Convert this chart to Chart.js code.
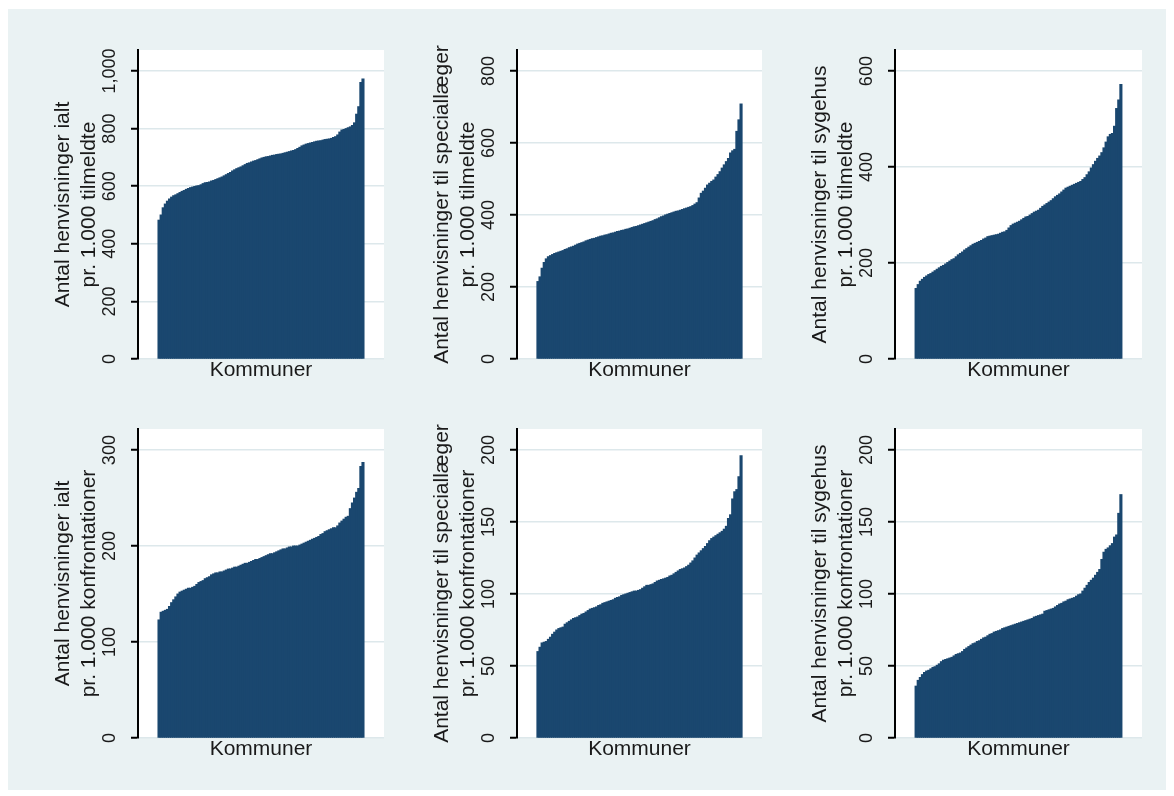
<!DOCTYPE html>
<html lang="da">
<head>
<meta charset="UTF-8">
<title>Henvisninger pr. kommune</title>
<script src="https://cdn.jsdelivr.net/npm/chart.js"></script>
<style>
    body { margin: 0; background: #fff; }
    #frame { position: absolute; left: 8px; top: 9px; width: 1158px; height: 781px; background: #eaf2f3; }
    canvas { position: absolute; }
</style>
</head>
<body>
<div id="frame"></div>
<canvas id="c1" width="334" height="380" style="left:50px;top:10px"></canvas>
<canvas id="c2" width="333" height="380" style="left:429px;top:10px"></canvas>
<canvas id="c3" width="335" height="380" style="left:807px;top:10px"></canvas>
<canvas id="c4" width="334" height="380" style="left:50px;top:389px"></canvas>
<canvas id="c5" width="333" height="380" style="left:429px;top:389px"></canvas>
<canvas id="c6" width="335" height="380" style="left:807px;top:389px"></canvas>
<script>
    // sorted values per kommune (98 kommuner)
    const ialtTilmeldte = [482,500,525,538,548,556,562,567,570,574,578,582,585,589,592,595,597,599,601,602,
        605,609,612,613,615,618,620,623,626,629,632,636,640,644,648,653,657,661,664,667,
        671,675,679,681,684,687,689,692,695,698,700,702,703,705,707,708,710,711,712,714,
        716,718,720,722,724,727,731,735,740,743,746,748,750,752,754,756,757,758,760,762,
        763,764,766,769,772,778,788,795,797,800,803,806,811,820,850,876,960,972];
    const specTilmeldte = [215,228,252,268,278,284,287,290,293,295,297,299,301,304,306,309,311,313,316,319,
        321,323,325,328,330,332,334,335,337,339,341,342,344,345,347,349,350,352,354,355,
        357,358,360,361,363,365,367,368,370,372,374,376,378,380,382,384,387,389,392,395,
        397,400,402,404,406,408,410,411,413,415,417,419,421,423,426,430,434,447,460,466,
        474,483,488,493,497,505,512,520,530,539,548,557,572,578,582,632,664,708];
    const sygehusTilmeldte = [147,155,162,166,170,173,176,178,181,184,187,190,193,195,198,201,204,207,209,213,
        217,220,223,227,230,233,236,239,241,243,245,247,250,252,255,256,257,258,259,260,
        262,264,265,268,273,278,281,283,285,287,290,293,296,297,300,303,306,308,310,314,
        318,321,324,327,330,334,338,341,344,348,352,356,358,360,362,364,366,368,370,374,
        378,384,390,398,405,412,418,423,430,440,452,463,468,470,485,522,540,572];
    const ialtKonf = [123,131,132,133,134,137,141,144,147,150,152,153,154,155,156,156,157,158,160,162,
        163,164,166,167,168,170,171,172,172,173,173,174,175,176,176,177,178,178,179,180,
        181,182,182,183,184,185,186,186,187,188,189,190,191,192,192,193,194,195,196,197,
        197,198,199,199,200,200,200,201,202,203,204,205,206,207,208,209,210,212,213,215,
        216,217,218,219,219,221,224,226,228,230,231,239,245,250,256,260,283,287];
    const specKonf = [60,63,66,66.5,67,68.5,70,72,73.5,75,76,76.5,77,79,80,81,82,83,83.5,84,
        85,86,86.5,87.5,88.5,89.5,90,90.5,91,92,92.5,93.5,94,94.5,95,95.5,96,97,97.5,98,
        99,99.5,100,100.5,101,101.5,102,102,102.5,103,104,105,106,106,106.5,107,108,109,109.5,110,
        110.5,111,111.5,112.5,113,114,115,116,117,117.5,118,119,120,121.5,123,125,127,128.5,130,131.5,
        133,135,137,138.5,139.5,140.5,141.5,142.5,143.5,145,147,152.5,155,166,171,172.5,181.5,196];
    const sygehusKonf = [36,40,42,44,45.5,46.5,47,48,49,49.5,50.5,51.5,53,54,54.5,55,55.5,56,57,58,
        58.5,59,60,61.5,62.5,63.5,64.5,65.5,66,67,67.5,68.5,69.5,70,71,72,72.5,73.5,74,74.5,
        75,76,76.5,77,77.5,78,78.5,79,79.5,80,80.5,81,81.5,82,82.5,83,84,84.5,85,85.5,
        86,88,88.5,89,89.5,90,91,92,93,93.5,94.5,95,96,96.5,97,97.5,98.5,99.5,100,102,
        104,106,108,109.5,111,113,115,117,124,129,131,132,133.5,135,139.5,141,156,169];

    const ticksTilm1 = [0, 200, 400, 600, 800, 1000];
    const ticksTilm2 = [0, 200, 400, 600, 800];
    const ticksTilm3 = [0, 200, 400, 600];
    const ticksKonf1 = [0, 100, 200, 300];
    const ticksKonf23 = [0, 50, 100, 150, 200];

    const NAVY = '#1a476f';
    const TEXT = '#1a1a1a';
    const FAMILY = "'Liberation Sans', Arial, sans-serif";
    const TICK_SIZE = 18;
    const fmt = v => v.toLocaleString('en-US');

    const meas = document.createElement('canvas').getContext('2d');
    meas.font = TICK_SIZE + 'px ' + FAMILY;

    const plotBg = {
        id: 'plotBg',
        beforeDraw(chart) {
            const a = chart.chartArea;
            const ctx = chart.ctx;
            ctx.save();
            ctx.fillStyle = '#fff';
            ctx.fillRect(a.left, a.top, a.right - a.left, a.bottom - a.top);
            ctx.restore();
        }
    };

    function makeChart(id, values, titleLines, ticks, yMax) {
        // rotated tick labels: centre them ~28px left of the axis
        const widest = Math.max(...ticks.map(t => meas.measureText(fmt(t)).width));
        const pad = 28 - 7 - widest / 2;
        return new Chart(document.getElementById(id), {
            type: 'bar',
            data: {
                datasets: [{
                    data: values.map((v, i) => ({ x: i, y: v })),
                    backgroundColor: NAVY,
                    borderWidth: 0,
                    barPercentage: 1,
                    categoryPercentage: 1,
                    inflateAmount: 0.5
                }]
            },
            options: {
                responsive: false,
                animation: false,
                layout: { padding: { top: 40, bottom: 3, left: 0, right: 0 } },
                plugins: { legend: { display: false }, tooltip: { enabled: false } },
                scales: {
                    x: {
                        type: 'linear', min: -10, max: 107, offset: false,
                        grid: { display: false, drawTicks: false },
                        border: { display: false },
                        ticks: { display: false },
                        title: { display: true, text: 'Kommuner', color: TEXT,
                            font: { family: FAMILY, size: 21, lineHeight: 1.25 }, padding: { top: 0, bottom: 4 } },
                        afterFit: s => { s.height = 28; }
                    },
                    y: {
                        min: 0, max: yMax,
                        afterBuildTicks: s => { s.ticks = ticks.map(v => ({ value: v })); },
                        afterFit: s => { s.width = 88; },
                        ticks: { minRotation: 90, maxRotation: 90, crossAlign: 'center', padding: pad,
                            color: TEXT, font: { family: FAMILY, size: TICK_SIZE }, callback: v => fmt(v) },
                        grid: { color: '#dde8eb', lineWidth: 1.5, tickColor: '#000', tickWidth: 2, tickLength: 7 },
                        border: { color: '#000', width: 2 },
                        title: { display: true, text: titleLines, color: TEXT,
                            font: { family: FAMILY, size: 21, lineHeight: 1.25 }, padding: { top: 0, bottom: 0 } }
                    }
                }
            },
            plugins: [plotBg]
        });
    }

    makeChart('c1', ialtTilmeldte, ['Antal henvisninger ialt', 'pr. 1.000 tilmeldte'], ticksTilm1, 1073);
    makeChart('c2', specTilmeldte, ['Antal henvisninger til speciallæger', 'pr. 1.000 tilmeldte'], ticksTilm2, 858);
    makeChart('c3', sygehusTilmeldte, ['Antal henvisninger til sygehus', 'pr. 1.000 tilmeldte'], ticksTilm3, 644);
    makeChart('c4', ialtKonf, ['Antal henvisninger ialt', 'pr. 1.000 konfrontationer'], ticksKonf1, 322);
    makeChart('c5', specKonf, ['Antal henvisninger til speciallæger', 'pr. 1.000 konfrontationer'], ticksKonf23, 214.6);
    makeChart('c6', sygehusKonf, ['Antal henvisninger til sygehus', 'pr. 1.000 konfrontationer'], ticksKonf23, 214.6);
</script>
</body>
</html>
